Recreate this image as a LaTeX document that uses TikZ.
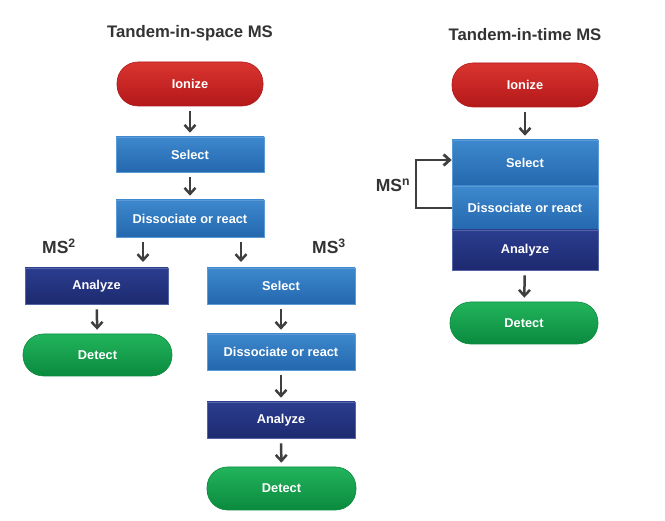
\documentclass[tikz,border=0pt]{standalone}
\usepackage{fontspec}
\setmainfont{Liberation Sans}
\usetikzlibrary{arrows.meta}
\definecolor{redA}{HTML}{DA3530}
\definecolor{redB}{HTML}{B3181A}
\definecolor{blueA}{HTML}{3D88CE}
\definecolor{blueB}{HTML}{2468AE}
\definecolor{blueE}{HTML}{5C9AD6}
\definecolor{navyA}{HTML}{2B3D8F}
\definecolor{navyB}{HTML}{1D2A70}
\definecolor{greenA}{HTML}{22B45C}
\definecolor{greenB}{HTML}{0A8A3E}
\definecolor{arrgray}{HTML}{3F3F3F}
\definecolor{titlegray}{HTML}{333333}
\tikzset{
  lbl/.style={text=white, font=\bfseries\fontsize{12.8}{15}\selectfont, inner sep=0pt},
  bluebox/.style={lbl, rectangle, minimum width=148pt, minimum height=36pt, top color=blueA, bottom color=blueB, draw=blueE, line width=0.6pt},
  navybox/.style={lbl, rectangle, minimum width=148pt, minimum height=36pt, top color=navyA, bottom color=navyB, draw=navyA!80!white, line width=0.6pt},
  pillred/.style={lbl, rectangle, rounded corners=21pt, minimum width=146pt, minimum height=44pt, top color=redA, bottom color=redB, draw=redB, line width=0.6pt},
  pillgreen/.style={lbl, rectangle, rounded corners=20.5pt, minimum width=149pt, minimum height=42pt, top color=greenA, bottom color=greenB, draw=greenB, line width=0.6pt},
  ttl/.style={text=titlegray, font=\bfseries\fontsize{16.7}{19}\selectfont, inner sep=0pt},
  mslbl/.style={text=titlegray, font=\bfseries\fontsize{17.5}{20}\selectfont, inner sep=0pt},
  arr/.style={draw=arrgray, line width=2.5pt, -{Straight Barb[length=6pt,width=11pt]}, shorten <=5pt, shorten >=4pt},
  loop/.style={draw=arrgray, line width=2.8pt, -{Straight Barb[length=6pt,width=11pt]}}
}
\begin{document}
\begin{tikzpicture}[x=1pt,y=-1pt]
\useasboundingbox[fill=white] (0,0) rectangle (665,521);
% left column
\node[ttl] (t1) at (190,33) {Tandem-in-space MS};
\node[pillred] (ion1) at (190,84) {Ionize};
\node[bluebox, minimum height=35pt] (sel1) at (190,154.5) {Select};
\node[bluebox, minimum height=37pt] (dis1) at (190,218.5) {Dissociate or react};
\node[navybox, minimum width=143pt] (an2) at (96.5,286) {Analyze};
\node[pillgreen] (det2) at (97.5,355) {Detect};
\node[bluebox] (sel3) at (281,286) {Select};
\node[bluebox] (dis3) at (281,352) {Dissociate or react};
\node[navybox] (an3) at (281,420) {Analyze};
\node[pillgreen, minimum height=43pt] (det3) at (281.5,488.5) {Detect};
\node[mslbl] (ms2) at (59,246) {MS\textsuperscript{2}};
\node[mslbl] (ms3) at (329,246) {MS\textsuperscript{3}};
\coordinate (a2) at (143,266);
\coordinate (a3) at (241,266);
\draw[arr] (ion1) -- (sel1);
\draw[arr] (sel1) -- (dis1);
\draw[arr] (dis1.south -| a2) -- (a2);
\draw[arr] (dis1.south -| a3) -- (a3);
\draw[arr] (an2) -- (det2);
\draw[arr] (sel3) -- (dis3);
\draw[arr] (dis3) -- (an3);
\draw[arr] (an3) -- (det3);
% right column
\node[ttl] (t2) at (525,35) {Tandem-in-time MS};
\node[pillred] (ion2) at (525,85) {Ionize};
\node[bluebox, minimum width=146pt, minimum height=46pt] (sel2) at (525,163) {Select};
\node[bluebox, minimum width=146pt, minimum height=44pt] (dis2) at (525,208) {Dissociate or react};
\node[navybox, minimum width=146pt, minimum height=40pt] (an4) at (525,250) {Analyze};
\node[pillgreen, minimum width=148pt] (det4) at (524,323) {Detect};
\node[mslbl] (msn) at (393,185) {MS\textsuperscript{n}};
\coordinate (lp) at (416,160);
\draw[arr] (ion2) -- (sel2);
\draw[arr] (an4) -- (det4);
\draw[loop] (dis2.west) -- (dis2.west -| lp) |- (sel2.west |- lp);
\end{tikzpicture}
\end{document}
